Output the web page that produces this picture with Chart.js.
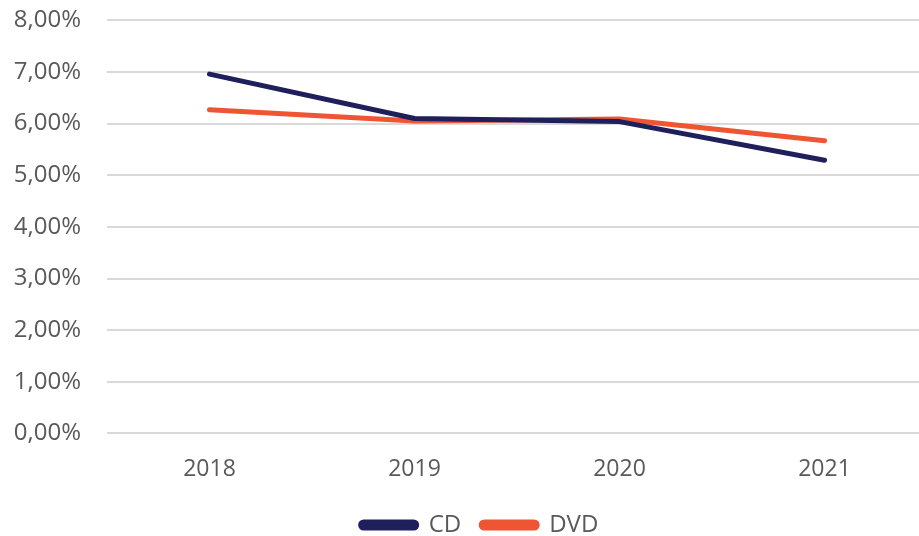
<!DOCTYPE html>
<html>
<head>
<meta charset="utf-8">
<script src="https://cdn.jsdelivr.net/npm/chart.js@4/dist/chart.umd.min.js"></script>
<style>
  html, body { margin: 0; padding: 0; background: #fff; overflow: hidden; }
  body { width: 919px; height: 536px; }
  #wrap { width: 927px; height: 579px; position: relative; top: -20px; }
</style>
</head>
<body>
<div id="wrap"><canvas id="chart"></canvas></div>
<script>
// values (fractions, shown as percent)
const years = ['2018', '2019', '2020', '2021'];
const cdValues = [0.0696, 0.0610, 0.0604, 0.0529];
const dvdValues = [0.0627, 0.0605, 0.0609, 0.0567];

const textColor = '#595959';
const gridColor = '#d9d9d9';
const fontFamily = '"Open Sans", sans-serif';

function pct(v) {
    return (v * 100).toFixed(2).replace('.', ',') + '%';
}

// nudge legend to where it sits in the original
const legendShift = {
    id: 'legendShift',
    afterLayout(chart) {
        const lg = chart.legend;
        lg.left += 16;
        lg.right += 16;
        lg.top -= 12;
        lg.bottom -= 12;
    }
};

new Chart(document.getElementById('chart'), {
    type: 'line',
    data: {
        labels: years,
        datasets: [
            {
                label: 'CD',
                data: cdValues,
                borderColor: '#1f1f5c',
                backgroundColor: '#1f1f5c',
                borderWidth: 5,
                borderCapStyle: 'round',
                borderJoinStyle: 'round',
                pointRadius: 0,
                tension: 0,
            },
            {
                label: 'DVD',
                data: dvdValues,
                borderColor: '#ee5533',
                backgroundColor: '#ee5533',
                borderWidth: 5,
                borderCapStyle: 'round',
                borderJoinStyle: 'round',
                pointRadius: 0,
                tension: 0,
            }
        ]
    },
    plugins: [legendShift],
    options: {
        responsive: true,
        maintainAspectRatio: false,
        animation: false,
        layout: { padding: 0 },
        scales: {
            x: {
                offset: true,
                grid: { display: false, drawTicks: false },
                border: { display: false },
                ticks: {
                    color: textColor,
                    font: { family: fontFamily, size: 23 },
                    padding: 22,
                },
            },
            y: {
                min: 0,
                max: 0.08,
                afterFit: (s) => { s.width = 107; },
                grid: { color: gridColor, lineWidth: 2, drawTicks: false },
                border: { display: false },
                ticks: {
                    stepSize: 0.01,
                    color: textColor,
                    font: { family: fontFamily, size: 24 },
                    padding: 26,
                    callback: (v) => pct(v),
                },
            },
        },
        plugins: {
            legend: {
                position: 'bottom',
                labels: {
                    color: textColor,
                    font: { family: fontFamily, size: 24 },
                    boxWidth: 56,
                    boxHeight: 6,
                    useBorderRadius: true,
                    borderRadius: 3,
                    padding: 20,
                },
            },
            tooltip: { enabled: false },
        },
    },
});
</script>
</body>
</html>
